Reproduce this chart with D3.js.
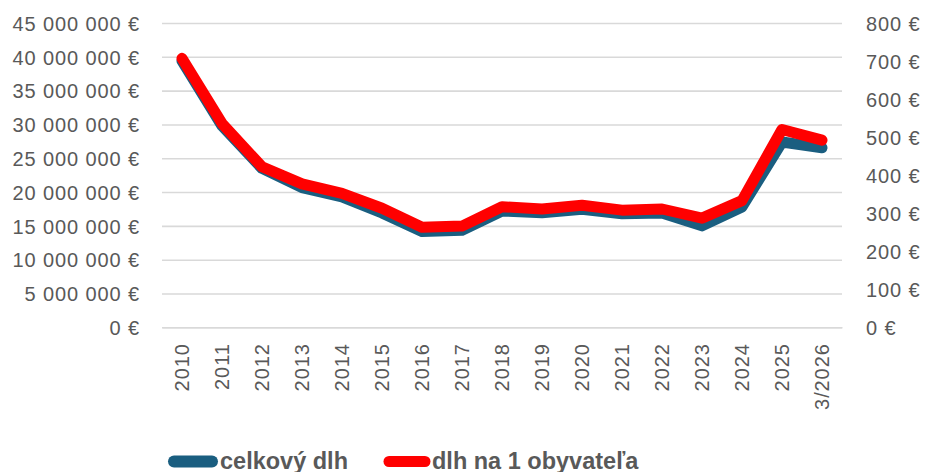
<!DOCTYPE html>
<html>
<head>
<meta charset="utf-8">
<script src="https://cdn.jsdelivr.net/npm/d3@7"></script>
<style>
  body { margin: 0; background: #fff; }
  svg text { font-family: "Liberation Sans", Arial, sans-serif; fill: #595959; }
</style>
</head>
<body>
<svg id="graf" width="925" height="472"></svg>
<script>
// roky na osi x
const roky = ["2010", "2011", "2012", "2013", "2014", "2015", "2016", "2017", "2018",
              "2019", "2020", "2021", "2022", "2023", "2024", "2025", "3/2026"];

// celkovy dlh v eurach (lava os)
const celkovyDlh = [39400000, 29800000, 23500000, 20650000, 19300000, 16900000, 14150000, 14350000,
                    17200000, 16950000, 17450000, 16800000, 16900000, 15000000, 17800000, 27400000, 26550000];

// dlh na 1 obyvatela v eurach (prava os)
const dlhNaObyvatela = [707, 536, 422, 377, 352, 313, 263, 266, 317, 311, 321, 308, 311, 287, 333, 520, 492];

const tickyVlavo = d3.range(0, 45000001, 5000000);
const tickyVpravo = d3.range(0, 801, 100);

const farbaModra = "#1a5e80";
const farbaCervena = "#ff0000";

const svg = d3.select("#graf");

const vlavo = 162, vpravo = 842, hore = 23, dole = 327.3;

const x = d3.scaleBand().domain(roky).range([vlavo, vpravo]);
const yL = d3.scaleLinear().domain([0, 45000000]).range([dole, hore]);
const yR = d3.scaleLinear().domain([0, 800]).range([dole, hore]);

const medzera = n => d3.format(",")(n).replace(/,/g, " ") + " €";

// mriezka
svg.append("g")
    .attr("transform", `translate(${vlavo},0)`)
    .call(d3.axisLeft(yL).tickValues(tickyVlavo).tickSize(-(vpravo - vlavo)).tickFormat(""))
    .call(g => g.select(".domain").remove())
    .call(g => g.selectAll("line").attr("stroke", "#d9d9d9").attr("stroke-width", 1.6));

// lava os
svg.append("g")
    .attr("transform", `translate(${vlavo},0)`)
    .call(d3.axisLeft(yL).tickValues(tickyVlavo).tickSize(0).tickPadding(22).tickFormat(medzera))
    .call(g => g.select(".domain").remove())
    .call(g => g.selectAll("text").style("font-size", "20px").style("letter-spacing", "0.9px").attr("dy", "0.36em"));

// prava os
svg.append("g")
    .attr("transform", `translate(${vpravo},0)`)
    .call(d3.axisRight(yR).tickValues(tickyVpravo).tickSize(0).tickPadding(24).tickFormat(medzera))
    .call(g => g.select(".domain").remove())
    .call(g => g.selectAll("text").style("font-size", "20px").style("letter-spacing", "0.9px").attr("dy", "0.36em"));

// os x
svg.append("g")
    .attr("transform", `translate(0,${dole})`)
    .call(d3.axisBottom(x).tickSize(0))
    .call(g => g.select(".domain").attr("stroke", "#d9d9d9").attr("stroke-width", 1.6))
    .call(g => g.selectAll("text")
        .style("font-size", "20px")
        .style("letter-spacing", "0.9px")
        .attr("text-anchor", "end")
        .attr("transform", "rotate(-90)")
        .attr("x", -16)
        .attr("y", 0)
        .attr("dy", "0.36em"));

const stred = d => x(d) + x.bandwidth() / 2;

const ciaraL = d3.line().x((d, i) => stred(roky[i])).y(d => yL(d));
const ciaraR = d3.line().x((d, i) => stred(roky[i])).y(d => yR(d));

svg.append("path")
    .datum(celkovyDlh)
    .attr("d", ciaraL)
    .attr("fill", "none")
    .attr("stroke", farbaModra)
    .attr("stroke-width", 11)
    .attr("stroke-linejoin", "round")
    .attr("stroke-linecap", "round");

svg.append("path")
    .datum(dlhNaObyvatela)
    .attr("d", ciaraR)
    .attr("fill", "none")
    .attr("stroke", farbaCervena)
    .attr("stroke-width", 11)
    .attr("stroke-linejoin", "round")
    .attr("stroke-linecap", "round");

// legenda
const legenda = [
    { nazov: "celkový dlh", farba: farbaModra, x1: 174, x2: 212, tx: 220, sirka: 12 },
    { nazov: "dlh na 1 obyvateľa", farba: farbaCervena, x1: 389, x2: 425, tx: 432, sirka: 11 }
];

const lg = svg.append("g");
legenda.forEach(l => {
    lg.append("line")
        .attr("x1", l.x1).attr("x2", l.x2)
        .attr("y1", 461.5).attr("y2", 461.5)
        .attr("stroke", l.farba)
        .attr("stroke-width", l.sirka)
        .attr("stroke-linecap", "round");
    lg.append("text")
        .attr("x", l.tx)
        .attr("y", 468.5)
        .style("font-size", "23.5px")
        .style("font-weight", "bold")
        .text(l.nazov);
});
</script>
</body>
</html>
